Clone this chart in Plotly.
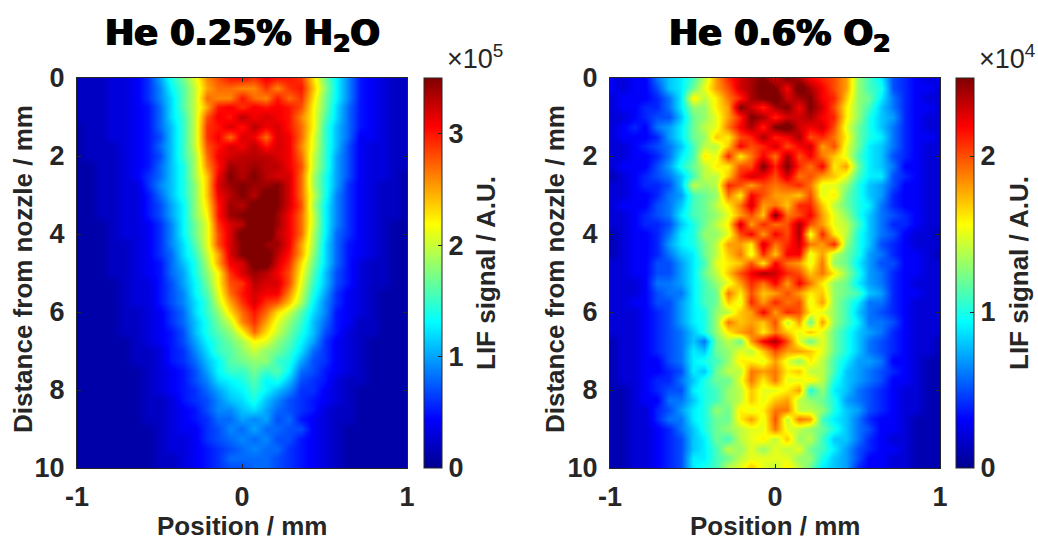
import plotly.graph_objects as go

x_cols = [round(-1 + i / 14, 3) for i in range(29)]
y_rows = [round(0.25 * i, 2) for i in range(41)]
tick_y = [0, 2, 4, 6, 8, 10]
tick_x = [-1, 0, 1]
tick_x_text = ["-1", "0", "1"]

# LIF signal in units of 1e4
h2o = [
 [2,2,2,3,3,4,6,10,14,17,21,26,28,30,30,29,31,30,30,29,23,17,13,9,5,4,3,2,2],
 [2,2,2,3,3,4,6,9,13,16,20,25,27,27,26,26,29,26,29,30,24,18,13,9,5,4,3,2,2],
 [2,2,2,3,3,4,6,9,12,16,20,27,26,26,30,27,26,30,27,29,23,17,13,9,5,4,3,2,2],
 [2,2,2,3,3,4,5,8,12,16,20,25,30,31,29,31,30,31,30,28,22,17,12,8,5,4,3,2,2],
 [2,2,2,3,3,4,5,8,12,15,20,28,31,30,33,31,32,31,30,26,22,16,12,8,5,4,3,2,2],
 [1,2,2,3,3,4,5,8,11,15,20,29,30,32,30,33,31,32,30,27,22,15,11,8,5,4,3,2,2],
 [1,2,2,3,3,4,5,7,11,15,20,29,31,27,32,31,27,32,31,27,21,15,11,8,4,4,3,2,2],
 [1,2,2,2,3,4,5,8,11,15,20,28,30,32,31,33,30,32,31,26,21,15,11,7,4,3,3,2,2],
 [1,2,2,2,3,4,5,7,11,15,19,27,31,32,33,33,33,32,31,27,20,15,10,7,4,3,3,2,2],
 [1,1,2,2,3,4,5,8,11,14,19,26,30,34,33,34,33,33,31,28,20,15,10,7,4,3,3,2,2],
 [1,1,2,2,3,4,6,8,11,14,19,24,31,35,33,35,33,32,32,27,19,14,10,7,4,3,3,2,1],
 [1,1,2,2,3,3,6,9,11,14,18,24,32,34,35,34,34,35,32,27,19,14,10,6,4,3,2,2,1],
 [1,1,2,2,3,3,5,8,11,14,18,24,31,33,35,33,36,35,32,27,20,14,9,6,4,3,2,2,1],
 [1,1,2,2,3,3,5,7,10,13,18,23,30,34,33,36,36,35,32,28,19,13,9,6,4,3,2,2,1],
 [1,1,2,2,3,3,5,7,10,13,18,22,30,34,35,36,37,34,31,27,20,13,9,6,4,3,2,2,1],
 [1,1,1,2,3,3,4,6,9,13,17,21,29,32,33,37,36,34,31,27,20,13,9,6,4,3,2,1,1],
 [1,1,1,2,3,3,4,6,9,13,17,21,28,32,36,37,37,33,31,27,19,13,8,6,4,3,2,1,1],
 [1,1,1,2,2,3,4,6,9,12,16,21,28,32,35,37,34,34,31,25,19,12,8,5,4,3,2,1,1],
 [1,1,1,2,2,3,4,6,8,12,15,20,25,32,35,37,36,33,30,25,18,12,8,5,4,3,2,1,1],
 [1,1,1,2,2,3,4,5,8,11,14,19,25,31,32,36,36,32,29,23,17,12,8,5,3,2,2,1,1],
 [1,1,1,2,2,3,4,5,8,10,14,18,22,29,32,34,33,31,28,22,16,11,7,5,3,2,2,1,1],
 [1,1,1,1,2,3,3,5,7,10,13,17,22,28,29,33,32,32,28,21,15,11,7,5,3,2,2,1,1],
 [1,1,1,1,2,3,3,5,7,9,13,16,21,27,30,32,31,31,26,20,14,10,6,4,3,2,1,1,1],
 [1,1,1,1,2,3,3,5,7,9,12,15,20,25,29,32,29,28,24,19,13,9,6,4,3,2,1,1,1],
 [1,1,1,1,2,2,3,4,6,8,12,15,18,23,27,30,27,23,20,16,12,9,5,4,3,2,1,1,1],
 [1,1,1,1,2,2,3,4,6,8,11,14,17,20,26,29,25,21,18,15,11,8,5,4,2,2,1,1,1],
 [1,1,1,1,2,2,3,4,5,7,11,14,16,18,22,27,23,20,17,14,11,7,5,3,2,2,1,1,1],
 [1,1,1,1,1,2,3,4,5,7,10,13,15,17,19,22,21,18,16,13,10,6,4,3,2,1,1,1,1],
 [1,1,1,1,1,2,2,3,5,6,9,12,15,16,18,20,18,17,15,12,8,6,4,3,2,1,1,1,1],
 [1,1,1,1,1,2,2,3,5,6,8,11,13,16,17,18,18,15,14,10,7,6,4,3,2,1,1,1,1],
 [1,1,1,1,1,1,2,3,4,5,7,10,13,15,15,17,15,16,13,8,7,5,4,3,2,1,1,1,1],
 [1,1,1,1,1,1,2,3,4,5,7,9,12,13,14,16,13,14,11,7,6,5,3,2,2,1,1,1,1],
 [1,1,1,1,1,1,2,3,4,5,6,8,10,12,13,15,13,11,9,6,6,4,3,2,1,1,1,1,1],
 [1,1,1,1,1,1,2,2,3,5,6,7,9,11,12,14,11,9,7,6,5,4,3,2,1,1,1,1,1],
 [1,1,1,1,1,1,2,2,3,4,5,7,9,9,11,12,10,8,7,6,5,3,2,2,1,1,1,1,1],
 [1,1,1,1,1,1,2,2,3,4,5,6,8,8,10,9,10,7,8,5,4,3,2,2,1,1,1,1,1],
 [1,1,1,1,1,1,1,2,3,4,4,6,7,9,8,10,8,8,7,7,4,3,2,1,1,1,1,1,1],
 [1,1,1,1,1,1,1,2,3,3,4,6,7,8,9,8,9,7,7,5,4,3,2,1,1,1,1,1,1],
 [1,1,1,1,1,1,1,2,3,3,4,5,6,7,8,9,8,8,6,5,4,3,2,1,1,1,1,1,1],
 [1,1,1,1,1,1,1,2,2,3,4,5,6,8,8,8,8,7,6,5,4,3,2,1,1,1,1,1,1],
 [1,1,1,1,1,1,1,2,2,3,4,5,6,7,7,8,8,7,6,5,4,3,2,1,1,1,1,1,1],
]
# LIF signal in units of 1e3
o2 = [
 [3,2,3,3,6,8,9,11,14,18,21,23,24,25,23,25,24,22,21,20,18,13,11,9,5,4,3,2,3],
 [3,2,3,3,5,8,9,12,15,18,20,23,24,26,25,22,26,24,22,20,18,13,11,10,5,4,3,3,2],
 [2,3,3,3,4,6,9,16,14,16,19,21,24,25,26,23,24,25,22,21,17,13,12,9,6,4,3,2,2],
 [2,3,3,4,4,6,9,13,13,16,18,25,23,21,24,25,22,25,23,20,16,13,11,8,6,4,3,3,2],
 [2,2,3,4,5,5,8,12,13,15,18,21,25,24,21,23,23,24,22,21,16,13,10,8,7,4,3,2,2],
 [2,3,4,3,6,7,9,12,14,15,19,22,24,21,25,26,23,22,23,20,15,12,10,8,6,4,3,2,2],
 [2,3,3,3,4,7,9,12,13,17,16,20,21,24,21,22,24,20,21,19,16,12,10,9,6,4,3,3,2],
 [2,2,3,4,5,6,8,11,14,14,17,22,20,21,23,20,22,23,18,20,15,12,9,8,6,4,3,2,2],
 [2,2,3,3,4,6,9,11,16,15,21,16,19,22,19,24,20,22,19,17,15,11,9,8,5,4,3,2,2],
 [2,3,3,3,5,7,10,12,14,16,16,20,20,25,21,25,21,19,22,16,18,12,9,8,6,3,3,2,2],
 [1,2,3,4,5,6,8,11,14,14,17,21,23,22,20,23,19,20,18,17,15,11,9,9,5,4,3,2,2],
 [2,2,3,4,4,5,8,14,13,14,21,20,18,20,19,20,21,19,15,15,13,10,8,7,5,3,3,2,2],
 [2,2,3,3,4,6,7,11,12,13,19,16,22,20,18,18,17,20,15,16,12,10,8,7,4,3,3,2,2],
 [2,3,3,3,5,6,8,11,12,14,16,19,23,18,19,17,21,21,17,14,12,10,9,6,4,3,3,2,2],
 [2,2,3,4,5,6,9,11,12,13,15,18,20,17,25,19,20,22,18,15,13,10,8,6,5,4,3,2,2],
 [2,2,3,4,4,5,8,10,12,14,16,23,18,21,19,20,24,20,18,15,14,11,8,6,4,4,3,2,2],
 [1,2,3,3,4,6,9,10,13,13,15,20,22,18,22,20,24,15,21,16,14,10,8,6,5,3,2,2,1],
 [1,2,3,3,4,7,9,10,12,14,18,18,16,23,19,21,23,19,18,21,13,10,8,5,4,3,2,2,2],
 [1,2,3,3,4,6,8,9,12,14,17,19,15,21,17,22,22,15,18,14,12,10,7,6,4,3,3,2,1],
 [2,2,3,3,5,5,7,9,11,15,16,17,20,16,22,19,18,15,19,13,12,9,7,5,5,3,3,2,2],
 [2,2,3,3,5,5,7,9,12,14,17,20,22,24,23,21,20,17,19,16,13,10,7,6,4,3,3,2,2],
 [2,2,2,3,6,6,7,9,11,13,15,18,21,19,22,18,22,19,16,13,12,9,7,6,4,3,2,2,2],
 [2,2,2,3,5,6,6,9,11,12,19,16,20,17,18,20,18,16,17,13,12,11,8,7,4,3,3,2,2],
 [2,2,3,3,5,5,7,9,11,12,17,15,21,18,21,19,20,15,18,13,11,9,6,6,4,3,2,2,2],
 [2,2,2,3,4,5,7,9,10,13,14,17,18,22,18,21,20,16,15,13,11,8,6,5,4,3,2,2,2],
 [2,2,2,3,4,5,7,9,10,13,19,17,18,17,20,14,18,12,18,13,11,9,6,6,5,3,2,2,2],
 [2,2,2,3,4,5,6,8,10,13,16,18,19,16,19,17,15,17,15,12,10,8,7,6,4,3,2,2,2],
 [1,2,2,3,4,5,6,8,6,12,14,12,18,22,24,20,15,12,15,12,10,8,6,5,4,3,2,2,1],
 [1,2,2,3,4,5,6,9,8,12,13,15,14,17,20,18,18,17,15,12,10,8,6,5,4,3,2,2,1],
 [1,2,2,3,3,5,6,9,10,11,13,16,16,15,18,15,13,16,14,11,9,7,7,6,3,3,2,1,1],
 [1,2,2,3,3,4,5,9,8,12,14,14,19,18,19,16,17,14,14,11,8,7,6,5,4,3,2,1,1],
 [1,2,2,3,4,4,6,8,10,12,12,15,19,16,19,15,15,16,14,10,8,7,6,5,3,3,2,1,1],
 [1,1,2,3,4,5,5,9,10,11,13,14,17,15,15,16,18,10,13,9,8,6,5,4,3,2,2,1,1],
 [1,1,2,3,3,6,6,8,10,11,13,14,17,15,17,18,14,13,12,10,7,6,5,4,3,2,2,1,1],
 [1,1,2,2,4,5,7,9,10,13,12,16,15,16,19,19,14,14,13,10,8,7,5,4,3,2,2,1,1],
 [1,1,2,2,4,6,6,9,10,12,12,16,18,15,20,14,19,18,11,9,8,6,4,3,3,2,1,1,1],
 [1,1,2,2,3,4,6,8,10,12,13,14,15,15,19,15,14,13,12,10,8,6,5,3,3,2,1,1,1],
 [1,1,2,2,3,4,5,8,9,12,11,14,15,16,14,17,13,14,11,8,8,6,4,3,2,2,1,1,1],
 [1,1,2,2,3,4,5,8,9,11,14,13,15,13,15,14,15,12,11,9,7,5,4,3,3,2,1,1,1],
 [1,1,2,2,3,4,5,9,9,11,12,14,15,15,15,15,13,13,10,8,7,5,3,3,2,2,1,1,1],
 [1,1,2,2,3,4,5,9,10,11,14,15,17,15,14,16,14,12,9,8,7,4,3,3,2,2,1,1,1],
]
assert all(len(r) == 29 for r in h2o + o2) and len(h2o) == 41 and len(o2) == 41

jet = [[0, "#00008f"], [0.125, "#0000ff"], [0.375, "#00ffff"],
       [0.625, "#ffff00"], [0.875, "#ff0000"], [1, "#800000"]]
W, H = 1038, 538
TOP, BOT = 78, 468
INK = "#262626"
FAM = "Liberation Sans"
tick_font = dict(family=FAM, size=27, color=INK, weight="bold")
title_font = dict(family=FAM, size=26, color=INK, weight="bold")

def colorbar(px, ticks, labels):
    return dict(x=px / W, xanchor="left", xref="paper", y=1 - BOT / H, yanchor="bottom",
                len=(BOT - TOP) / H, lenmode="fraction", thickness=18, thicknessmode="pixels",
                outlinewidth=1, outlinecolor=INK, tickvals=ticks, ticktext=labels,
                ticks="inside", ticklen=4, tickcolor=INK, tickfont=tick_font, xpad=0, ypad=0)

fig = go.Figure()
fig.add_trace(go.Heatmap(x=x_cols, y=y_rows, z=[[v * 1e4 for v in r] for r in h2o], zmin=0, zmax=3.5e5,
                         colorscale=jet, zsmooth="best", xaxis="x", yaxis="y",
                         colorbar=colorbar(424, [0, 1e5, 2e5, 3e5], ["0", "1", "2", "3"])))
fig.add_trace(go.Heatmap(x=x_cols, y=y_rows, z=[[v * 1e3 for v in r] for r in o2], zmin=0, zmax=2.5e4,
                         colorscale=jet, zsmooth="best", xaxis="x2", yaxis="y2",
                         colorbar=colorbar(956, [0, 1e4, 2e4], ["0", "1", "2"])))

ax = dict(tickvals=tick_x, ticktext=tick_x_text, range=[-1, 1], ticks="inside", ticklen=4, tickcolor=INK,
          showline=True, linecolor=INK, linewidth=1, mirror="ticks", tickfont=tick_font, showgrid=False,
          zeroline=False, ticklabelstandoff=5, automargin=False)
ay = dict(tickvals=tick_y, range=[10, 0], ticks="inside", ticklen=4, tickcolor=INK,
          showline=True, linecolor=INK, linewidth=1, mirror="ticks", tickfont=tick_font, showgrid=False,
          zeroline=False, ticklabelstandoff=6, automargin=False)
fig.update_layout(
    width=W, height=H, margin=dict(l=0, r=0, t=0, b=0, autoexpand=False), paper_bgcolor="white",
    plot_bgcolor="white",
    xaxis=dict(ax, domain=[77 / W, 407 / W], anchor="y"),
    yaxis=dict(ay, domain=[1 - BOT / H, 1 - TOP / H], anchor="x"),
    xaxis2=dict(ax, domain=[610 / W, 940 / W], anchor="y2"),
    yaxis2=dict(ay, domain=[1 - BOT / H, 1 - TOP / H], anchor="x2"),
)
title_style = dict(family="DejaVu Sans", size=35, color="black", weight="bold",
                   shadow="1px 0 0 black, -1px 0 0 black")
for cx, text in [(242, "He 0.25% H<sub>2</sub>O"), (779, "He 0.6% O<sub>2</sub>")]:
    fig.add_annotation(x=cx / W, y=1 - 35 / H, xref="paper", yref="paper", text=text, showarrow=False,
                       xanchor="center", yanchor="middle", font=title_style)
for cx, text in [(475, "×10<sup>5</sup>"), (1007, "×10<sup>4</sup>")]:
    fig.add_annotation(x=cx / W, y=1 - 57 / H, xref="paper", yref="paper", text=text, showarrow=False,
                       xanchor="center", yanchor="middle", font=dict(family=FAM, size=27, color=INK))
for cx in [486, 1019]:
    fig.add_annotation(x=cx / W, y=1 - 273 / H, xref="paper", yref="paper", text="LIF signal / A.U.",
                       showarrow=False, textangle=-90, xanchor="center", yanchor="middle", font=title_font)
for cx in [242, 775]:
    fig.add_annotation(x=cx / W, y=1 - 526 / H, xref="paper", yref="paper", text="Position / mm", height=22,
                       showarrow=False, xanchor="center", yanchor="middle", font=title_font)
for cx in [23, 555]:
    fig.add_annotation(x=cx / W, y=1 - 269 / H, xref="paper", yref="paper", text="Distance from nozzle / mm",
                       showarrow=False, textangle=-90, xanchor="center", yanchor="middle", font=title_font)
fig.write_html("out.html", config=dict(displayModeBar=False), post_script="document.body.style.margin='0';")
